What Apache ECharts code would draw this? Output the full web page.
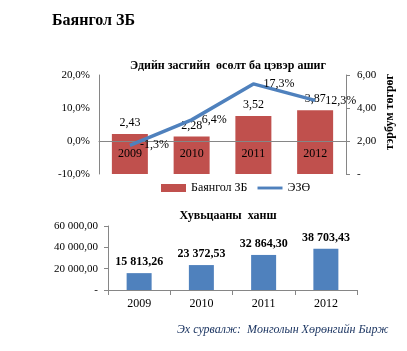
<!DOCTYPE html>
<html><head><meta charset="utf-8">
<script src="https://cdn.jsdelivr.net/npm/echarts@6/dist/echarts.min.js"></script>
<style>html,body{margin:0;padding:0;background:#fff}#c{width:407px;height:351px}</style>
</head><body><div id="c"></div>
<script>
const years = ['2009', '2010', '2011', '2012'];
const profit = [2.43, 2.28, 3.52, 3.87];          // Баянгол ЗБ, тэрбум төгрөг
const gdpGrowth = [-1.3, 6.4, 17.3, 12.3];        // ЭЗӨ, %
const sharePrice = [15813.26, 23372.53, 32864.30, 38703.43];
const pctTicks = { min: -10, max: 20, interval: 10 };
const profitTicks = { min: 0, max: 6, interval: 2 };
const priceTicks = { min: 0, max: 60000, interval: 20000 };

const F = 'Liberation Serif';
const grey = '#868686';
const fmtComma = (v, d) => v.toFixed(d).replace('.', ',');
const fmtThousands = v => {
  const [i, f] = v.toFixed(2).split('.');
  return i.replace(/\B(?=(\d{3})+(?!\d))/g, ' ') + ',' + f;
};

const topGridH = 99;
// distance from grid bottom up to the 0% line
const zeroOffset = topGridH * (0 - pctTicks.min) / (pctTicks.max - pctTicks.min);

const chart = echarts.init(document.getElementById('c'), null, { renderer: 'canvas' });
chart.setOption({
  animation: false,
  textStyle: { fontFamily: F },
  title: [
    { text: 'Баянгол ЗБ', left: 47, top: 8, textStyle: { fontFamily: F, fontSize: 16, fontWeight: 'bold', color: '#000' } },
    { text: 'Эдийн засгийн  өсөлт ба цэвэр ашиг', left: 223, textAlign: 'center', top: 55, textStyle: { fontFamily: F, fontSize: 12, fontWeight: 'bold', color: '#000' } },
    { text: 'Хувьцааны  ханш', left: 223, textAlign: 'center', top: 205, textStyle: { fontFamily: F, fontSize: 12, fontWeight: 'bold', color: '#000' } },
    { text: 'Эх сурвалж:  Монголын Хөрөнгийн Бирж', left: 172, top: 319, textStyle: { fontFamily: F, fontSize: 12, fontStyle: 'italic', fontWeight: 'normal', color: '#1F3864' } }
  ],
  legend: {
    left: 156, top: 177, itemWidth: 25, itemHeight: 8, itemGap: 10,
    textStyle: { fontFamily: F, fontSize: 12, color: '#000' },
    data: [
      { name: 'Баянгол ЗБ', icon: 'rect' },
      { name: 'ЭЗӨ', icon: 'path://M0,0 L26,0 L26,3 L0,3 Z' }
    ]
  },
  grid: [
    { left: 99, right: 61, top: 75, height: topGridH },
    { left: 108, right: 50, top: 226, height: 64 }
  ],
  xAxis: [
    { type: 'category', gridIndex: 0, data: years, position: 'bottom', offset: -zeroOffset, z: 4,
      axisLine: { onZero: false, lineStyle: { color: grey } },
      axisTick: { show: false },
      axisLabel: { margin: 7, fontFamily: F, fontSize: 12, color: '#000' } },
    { type: 'category', gridIndex: 1, data: years,
      axisLine: { lineStyle: { color: grey } },
      axisTick: { show: true, length: 5, lineStyle: { color: grey } },
      axisLabel: { margin: 8, fontFamily: F, fontSize: 12, color: '#000' } }
  ],
  yAxis: [
    { type: 'value', gridIndex: 0, position: 'left', min: pctTicks.min, max: pctTicks.max, interval: pctTicks.interval,
      axisLine: { show: true, lineStyle: { color: grey } }, axisTick: { show: false }, splitLine: { show: false },
      axisLabel: { margin: 9, fontFamily: F, fontSize: 11, color: '#000', formatter: v => fmtComma(v, 1) + '%' } },
    { type: 'value', gridIndex: 0, position: 'right', min: profitTicks.min, max: profitTicks.max, interval: profitTicks.interval,
      axisLine: { show: true, lineStyle: { color: grey } }, axisTick: { show: true, length: 4, lineStyle: { color: grey } }, splitLine: { show: false },
      axisLabel: { margin: 11, fontFamily: F, fontSize: 11, color: '#000', formatter: v => v === 0 ? '-' : fmtComma(v, 2) } },
    { type: 'value', gridIndex: 1, min: priceTicks.min, max: priceTicks.max, interval: priceTicks.interval,
      axisLine: { show: true, lineStyle: { color: grey } }, axisTick: { show: true, length: 4, lineStyle: { color: grey } }, splitLine: { show: false },
      axisLabel: { margin: 10, fontFamily: F, fontSize: 11, color: '#000', formatter: v => v === 0 ? '-' : fmtThousands(v) } }
  ],
  series: [
    { name: 'Баянгол ЗБ', type: 'bar', xAxisIndex: 0, yAxisIndex: 1, data: profit, barWidth: 36, z: 2,
      itemStyle: { color: '#C0504D' },
      label: { show: true, position: 'top', distance: 5, fontFamily: F, fontSize: 12, color: '#000', formatter: p => fmtComma(p.value, 2) } },
    { name: 'ЭЗӨ', type: 'line', xAxisIndex: 0, yAxisIndex: 0, data: gdpGrowth, z: 5,
      symbol: 'circle', symbolSize: 0.1,
      lineStyle: { color: '#4F81BD', width: 3.5 }, itemStyle: { color: '#4F81BD' },
      label: { show: true, position: 'right', distance: 10, fontFamily: F, fontSize: 12, color: '#000', formatter: p => fmtComma(p.value, 1) + '%' } },
    { name: 'Хувьцааны ханш', type: 'bar', xAxisIndex: 1, yAxisIndex: 2, data: sharePrice, barWidth: 25,
      itemStyle: { color: '#4F81BD' },
      label: { show: true, position: 'top', distance: 5, fontFamily: F, fontSize: 12, fontWeight: 'bold', color: '#000', formatter: p => fmtThousands(p.value) } }
  ],
  graphic: [
    { type: 'text', x: 390, y: 112, rotation: Math.PI / 2,
      style: { text: 'тэрбум төгрөг', fontFamily: F, fontSize: 12, fontWeight: 'bold', fill: '#000', align: 'center', verticalAlign: 'middle' } }
  ]
});
</script></body></html>
